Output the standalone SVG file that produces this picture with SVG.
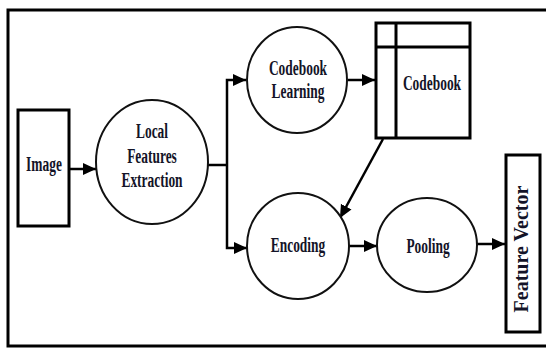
<svg xmlns="http://www.w3.org/2000/svg" width="546" height="348" viewBox="0 0 546 348">
<defs>
<style>
.frame{fill:none;stroke:#000;stroke-width:3}
.box{fill:#fff;stroke:#000;stroke-width:3}
.node{fill:#fff;stroke:#111;stroke-width:2}
.conn{fill:none;stroke:#000;stroke-width:2.5}
.lbl{font-family:"Liberation Serif","Times New Roman",serif;font-weight:bold;font-size:22px;fill:#141428;text-anchor:middle}
</style>
<marker id="ah" markerUnits="userSpaceOnUse" markerWidth="14" markerHeight="14" viewBox="0 0 14 14" refX="13" refY="7" orient="auto">
<path d="M0,1 L13,7 L0,13 Z" fill="#000"/>
</marker>
</defs>
<rect class="frame" x="8" y="10" width="545" height="336"/>
<g id="connectors">
<line class="conn" x1="69" y1="169" x2="96" y2="169" marker-end="url(#ah)"/>
<polyline class="conn" points="208,165 227,165"/>
<polyline class="conn" points="227,165 227,80 246,80" marker-end="url(#ah)"/>
<polyline class="conn" points="227,165 227,248 247,248" marker-end="url(#ah)"/>
<line class="conn" x1="348" y1="80" x2="375" y2="80" marker-end="url(#ah)"/>
<line class="conn" x1="383" y1="139" x2="340" y2="218" marker-end="url(#ah)"/>
<line class="conn" x1="349" y1="246" x2="377" y2="246" marker-end="url(#ah)"/>
<line class="conn" x1="477" y1="244" x2="505" y2="244" marker-end="url(#ah)"/>
</g>
<g id="image">
<rect class="box" x="18" y="110" width="51" height="116"/>
<text class="lbl" transform="translate(44,171) scale(0.61,1)">Image</text>
</g>
<g id="local-features-extraction">
<ellipse class="node" cx="152" cy="162" rx="56" ry="62"/>
<text class="lbl" transform="translate(152,138) scale(0.61,1)">Local</text>
<text class="lbl" transform="translate(152,163) scale(0.61,1)">Features</text>
<text class="lbl" transform="translate(152,187) scale(0.61,1)">Extraction</text>
</g>
<g id="codebook-learning">
<ellipse class="node" cx="297" cy="80" rx="50" ry="53"/>
<text class="lbl" transform="translate(298,75) scale(0.61,1)">Codebook</text>
<text class="lbl" transform="translate(298,98) scale(0.61,1)">Learning</text>
</g>
<g id="codebook">
<rect class="box" x="376" y="23" width="94" height="115"/>
<line class="conn" x1="396" y1="23" x2="396" y2="138" style="stroke-width:3"/>
<line class="conn" x1="376" y1="47" x2="470" y2="47" style="stroke-width:3"/>
<text class="lbl" transform="translate(432,90) scale(0.61,1)">Codebook</text>
</g>
<g id="encoding">
<ellipse class="node" cx="298" cy="246" rx="51" ry="53"/>
<text class="lbl" transform="translate(298,252) scale(0.61,1)">Encoding</text>
</g>
<g id="pooling">
<ellipse class="node" cx="427" cy="245" rx="50" ry="47"/>
<text class="lbl" transform="translate(428,253) scale(0.61,1)">Pooling</text>
</g>
<g id="feature-vector">
<rect class="box" x="506" y="155" width="34" height="177"/>
<text class="lbl" style="font-size:20px" transform="translate(528,249) rotate(-90)">Feature Vector</text>
</g>
</svg>
